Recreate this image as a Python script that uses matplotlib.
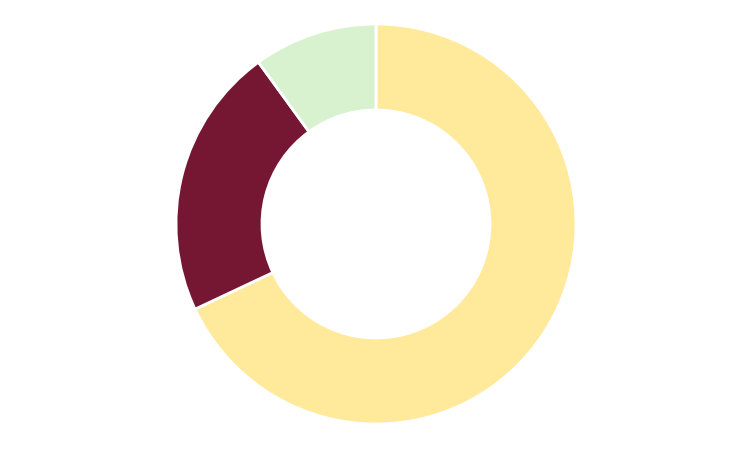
import matplotlib
matplotlib.use("Agg")
from matplotlib import pyplot as plt

labels = ["A", "B", "C"]
values = [68, 22, 10]
colors = ["#FFE99A", "#751733", "#D8F2D0"]

W, H = 752, 452
fig = plt.figure(figsize=(W / 100, H / 100), dpi=100)
ax = fig.add_axes([0, 0, 1, 1])

ax.pie(values, colors=colors, startangle=90, counterclock=False,
       center=(376, 227), radius=200,
       wedgeprops=dict(width=86, edgecolor="white", linewidth=2))

ax.set_xlim(0, W)
ax.set_ylim(0, H)
ax.set_aspect("equal")
ax.axis("off")

fig.savefig("out.png", dpi=100, facecolor="white")
